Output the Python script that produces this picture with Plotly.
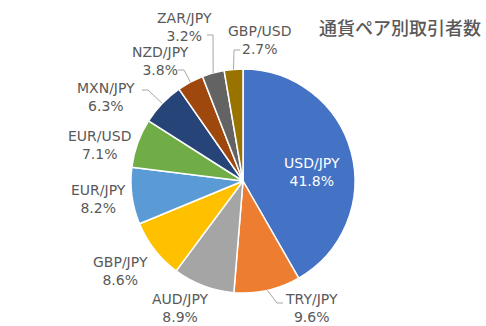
import math
import plotly.graph_objects as go

# ---- data ----
pairs = ["USD/JPY", "TRY/JPY", "AUD/JPY", "GBP/JPY", "EUR/JPY",
         "EUR/USD", "MXN/JPY", "NZD/JPY", "ZAR/JPY", "GBP/USD"]
shares = [41.8, 9.6, 8.9, 8.6, 8.2, 7.1, 6.3, 3.8, 3.2, 2.7]
colors = ["#4472C4", "#ED7D31", "#A5A5A5", "#FFC000", "#5B9BD5",
          "#70AD47", "#264478", "#9E480E", "#636363", "#997300"]
title_text = "通貨ペア別取引者数"

# ---- layout (pixels) ----
W, H = 486, 326
CX, CY, R = 243, 181, 112
# label text centre positions (px)
label_pos = {
    "USD/JPY": (312, 172),
    "TRY/JPY": (311, 308),
    "AUD/JPY": (180, 308),
    "GBP/JPY": (120, 271),
    "EUR/JPY": (98, 199),
    "EUR/USD": (99, 145),
    "MXN/JPY": (106, 97),
    "NZD/JPY": (160, 61),
    "ZAR/JPY": (184, 27),
    "GBP/USD": (260, 40),
}
# leader line attach points on label side (px)
leader_attach = {
    "TRY/JPY": (283, 303),
    "MXN/JPY": (142, 90),
    "NZD/JPY": (178, 70),
    "ZAR/JPY": (207, 35),
    "GBP/USD": (240, 50),
}

def px(x):
    return x / W

def py(y):
    return 1 - y / H

fig = go.Figure()
fig.add_trace(go.Pie(
    labels=pairs, values=shares, sort=False, direction="clockwise",
    rotation=0, textinfo="none", hoverinfo="label+value",
    marker=dict(colors=colors, line=dict(color="white", width=1.5)),
    domain=dict(x=[px(CX - R), px(CX + R)], y=[py(CY + R), py(CY - R)]),
    showlegend=False,
))

total = sum(shares)
cum = 0.0
annotations = []
shapes = []
for name, v in zip(pairs, shares):
    mid = (cum + v / 2) / total * 2 * math.pi
    cum += v
    ex = CX + R * math.sin(mid)
    ey = CY - R * math.cos(mid)
    lx, ly = label_pos[name]
    inside = name == "USD/JPY"
    annotations.append(dict(
        x=px(lx), y=py(ly), xref="paper", yref="paper",
        text=f"{name}<br>{v:.1f}%", showarrow=False,
        font=dict(family="DejaVu Sans", size=14,
                  color="white" if inside else "#595959"),
        align="center", xanchor="center", yanchor="middle", borderpad=0,
    ))
    if name in leader_attach:
        ax, ay = leader_attach[name]
        sgn = 1 if ex > ax else -1
        bx = ax + 6 * sgn
        path = f"M {px(ax)},{py(ay)} L {px(bx)},{py(ay)} L {px(ex)},{py(ey)}"
        shapes.append(dict(type="path", path=path, xref="paper", yref="paper",
                           line=dict(color="#A6A6A6", width=1)))

annotations.append(dict(
    x=px(400), y=py(27), xref="paper", yref="paper", text=title_text,
    showarrow=False, xanchor="center", yanchor="middle",
    font=dict(family="Noto Sans CJK JP", size=18, color="#595959", weight=500),
))

fig.update_layout(
    width=W, height=H, margin=dict(l=0, r=0, t=0, b=0),
    paper_bgcolor="white", plot_bgcolor="white",
    annotations=annotations, shapes=shapes,
)
fig.write_html("out.html")
